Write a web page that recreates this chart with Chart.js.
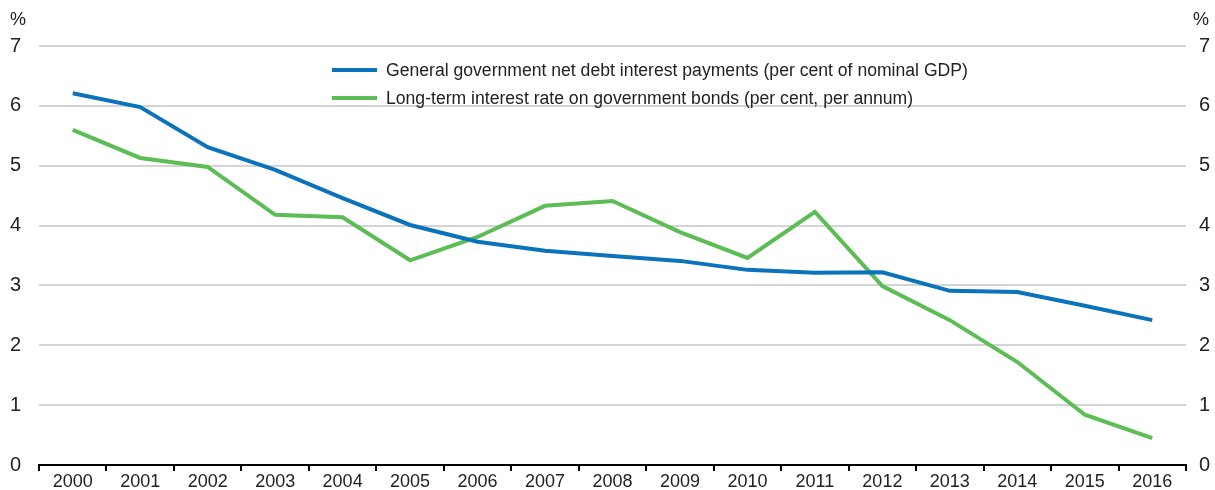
<!DOCTYPE html>
<html>
<head>
<meta charset="utf-8">
<script src="https://cdn.jsdelivr.net/npm/chart.js@4/dist/chart.umd.min.js"></script>
<style>
  html, body { margin: 0; padding: 0; background: #fff; }
  #wrap { width: 1215px; height: 490px; position: relative; }
</style>
</head>
<body>
<div id="wrap"><canvas id="rates-line"></canvas></div>
<script>
//
// Interest payments vs long-term rates
//

var years = ['2000', '2001', '2002', '2003', '2004', '2005', '2006', '2007', '2008',
	'2009', '2010', '2011', '2012', '2013', '2014', '2015', '2016'];

var debtInterest = [6.21, 5.98, 5.31, 4.93, 4.46, 4.01, 3.73, 3.58, 3.49,
	3.41, 3.26, 3.21, 3.22, 2.91, 2.89, 2.66, 2.42];

var bondRate = [5.60, 5.13, 4.98, 4.18, 4.14, 3.42, 3.81, 4.33, 4.41,
	3.89, 3.46, 4.23, 2.99, 2.42, 1.72, 0.84, 0.45];

var seriesNames = [
	'General government net debt interest payments (per cent of nominal GDP)',
	'Long-term interest rate on government bonds (per cent, per annum)'
];

var yTicks = [0, 1, 2, 3, 4, 5, 6, 7];

var blue = '#0b73bb';
var green = '#5dbd55';
var fontFamily = '"Liberation Sans", Arial, sans-serif';

// Legend and unit labels drawn on the canvas
var extras = {
	id: 'extras',
	afterDraw: function(chart) {
		var ctx = chart.ctx;
		ctx.save();
		ctx.font = '18px ' + fontFamily;
		ctx.fillStyle = '#222';
		ctx.textBaseline = 'middle';
		ctx.textAlign = 'center';
		ctx.fillText('%', 18, 20);
		ctx.fillText('%', 1201, 20);

		var colors = [blue, green];
		var rows = [70, 98];
		ctx.font = '17.6px ' + fontFamily;
		ctx.textAlign = 'left';
		for (var i = 0; i < seriesNames.length; i++) {
			ctx.strokeStyle = colors[i];
			ctx.lineWidth = 4;
			ctx.beginPath();
			ctx.moveTo(332, rows[i]);
			ctx.lineTo(377, rows[i]);
			ctx.stroke();
			ctx.fillText(seriesNames[i], 386, rows[i] + 1);
		}
		ctx.restore();
	}
};

// Fixed-width value axis without vertical label padding
function fitValueAxis(width) {
	return function(axis) {
		axis.width = width;
		axis.paddingTop = 0;
		axis.paddingBottom = 0;
	};
}

new Chart(document.getElementById('rates-line'), {
	type: 'line',
	data: {
		labels: years,
		datasets: [{
			label: seriesNames[0],
			data: debtInterest,
			borderColor: blue,
			backgroundColor: blue,
			borderWidth: 4,
			pointRadius: 0,
			tension: 0
		}, {
			label: seriesNames[1],
			data: bondRate,
			borderColor: green,
			backgroundColor: green,
			borderWidth: 4,
			pointRadius: 0,
			tension: 0
		}]
	},
	options: {
		responsive: true,
		maintainAspectRatio: false,
		animation: false,
		layout: { padding: { top: 46, left: 0, right: 0, bottom: 0 } },
		plugins: {
			legend: { display: false },
			tooltip: { enabled: false }
		},
		scales: {
			x: {
				offset: true,
				grid: {
					offset: true,
					drawOnChartArea: false,
					drawTicks: true,
					tickLength: 6,
					color: '#000',
					lineWidth: 2
				},
				border: { color: '#000', width: 2 },
				ticks: {
					color: '#222',
					font: { family: fontFamily, size: 18 },
					padding: 0,
					maxRotation: 0,
					autoSkip: false
				},
				afterFit: function(axis) { axis.height = 25; }
			},
			y: {
				position: 'left',
				min: 0,
				max: 7,
				afterBuildTicks: function(axis) {
					axis.ticks = yTicks.map(function(v) { return { value: v }; });
				},
				grid: { color: '#d4d4d4', lineWidth: 2, drawTicks: false },
				border: { display: false },
				ticks: {
					color: '#222',
					font: { family: fontFamily, size: 20 },
					padding: 18
				},
				afterFit: fitValueAxis(39)
			},
			y2: {
				position: 'right',
				min: 0,
				max: 7,
				afterBuildTicks: function(axis) {
					axis.ticks = yTicks.map(function(v) { return { value: v }; });
				},
				grid: { drawOnChartArea: false, drawTicks: false },
				border: { display: false },
				ticks: {
					color: '#222',
					font: { family: fontFamily, size: 20 },
					padding: 13
				},
				afterFit: fitValueAxis(29)
			}
		}
	},
	plugins: [extras]
});
</script>
</body>
</html>
